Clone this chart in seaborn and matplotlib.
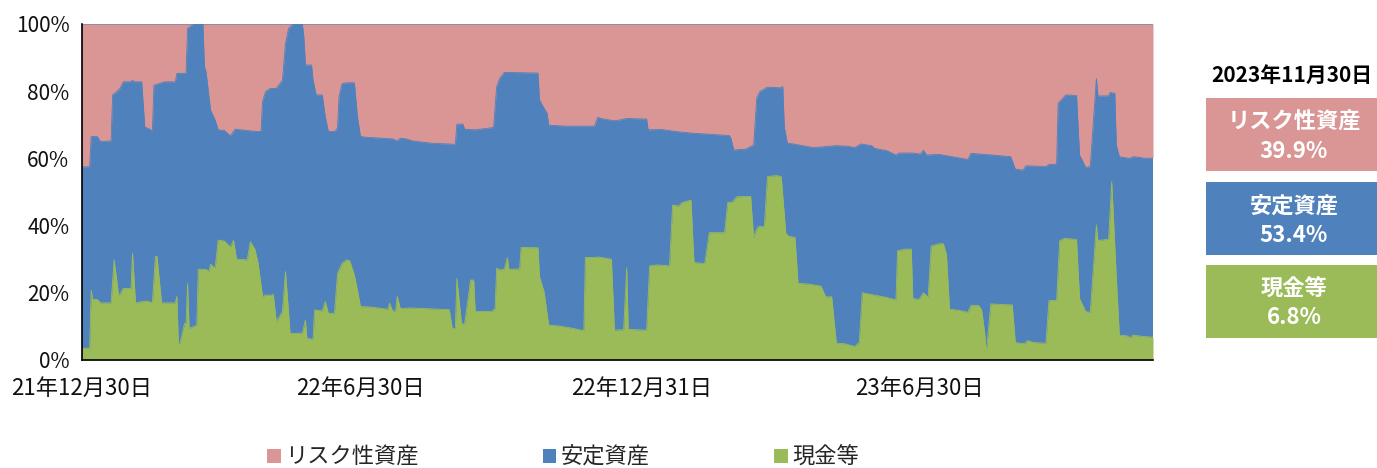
import matplotlib
matplotlib.use("Agg")
import matplotlib.pyplot as plt
from matplotlib.patches import Patch, Rectangle
import pandas as pd
import seaborn as sns

# ---------------- data ----------------
series_names = ["リスク性資産", "安定資産", "現金等"]
colors = ["#D99694", "#4F81BD", "#9BBB59"]

risk_dates = [
    "2021-12-30", "2022-01-04", "2022-01-05", "2022-01-09", "2022-01-11", "2022-01-18", "2022-01-19",
    "2022-01-22", "2022-01-24", "2022-01-26", "2022-01-31", "2022-02-01", "2022-02-02", "2022-02-07",
    "2022-02-09", "2022-02-13", "2022-02-14", "2022-02-15", "2022-02-22", "2022-03-01", "2022-03-02",
    "2022-03-08", "2022-03-09", "2022-03-13", "2022-03-19", "2022-03-20", "2022-03-21", "2022-03-24",
    "2022-03-27", "2022-03-29", "2022-04-02", "2022-04-06", "2022-04-09", "2022-04-19", "2022-04-24",
    "2022-04-26", "2022-04-27", "2022-04-29", "2022-05-02", "2022-05-06", "2022-05-10", "2022-05-12",
    "2022-05-14", "2022-05-17", "2022-05-23", "2022-05-24", "2022-05-25", "2022-05-29", "2022-05-30",
    "2022-06-01", "2022-06-05", "2022-06-07", "2022-06-09", "2022-06-13", "2022-06-15", "2022-06-16",
    "2022-06-18", "2022-06-21", "2022-06-26", "2022-06-28", "2022-06-30", "2022-07-04", "2022-07-21",
    "2022-07-24", "2022-07-26", "2022-07-30", "2022-08-03", "2022-08-16", "2022-08-31", "2022-09-01",
    "2022-09-05", "2022-09-06", "2022-09-13", "2022-09-25", "2022-09-27", "2022-09-29", "2022-10-02",
    "2022-10-24", "2022-10-25", "2022-10-28", "2022-10-30", "2022-10-31", "2022-11-11", "2022-11-30",
    "2022-12-02", "2022-12-05", "2022-12-13", "2022-12-16", "2022-12-21", "2023-01-03", "2023-01-04",
    "2023-01-13", "2023-01-22", "2023-02-02", "2023-02-13", "2023-02-26", "2023-02-27", "2023-03-01",
    "2023-03-09", "2023-03-14", "2023-03-16", "2023-03-18", "2023-03-23", "2023-04-01", "2023-04-02",
    "2023-04-03", "2023-04-05", "2023-04-09", "2023-04-22", "2023-05-07", "2023-05-15", "2023-05-19",
    "2023-05-23", "2023-05-30", "2023-06-01", "2023-06-09", "2023-06-15", "2023-06-17", "2023-06-26",
    "2023-07-01", "2023-07-03", "2023-07-05", "2023-07-13", "2023-07-22", "2023-08-01", "2023-08-03",
    "2023-08-17", "2023-08-29", "2023-09-01", "2023-09-06", "2023-09-08", "2023-09-21", "2023-09-23",
    "2023-09-28", "2023-09-29", "2023-10-02", "2023-10-04", "2023-10-11", "2023-10-13", "2023-10-15",
    "2023-10-17", "2023-10-20", "2023-10-24", "2023-10-25", "2023-11-01", "2023-11-02", "2023-11-05",
    "2023-11-06", "2023-11-08", "2023-11-15", "2023-11-17", "2023-11-21", "2023-11-25", "2023-11-30",
]
risk_vals = [
    42.5, 42.5, 33.5, 33.5, 35.0, 34.8, 21.1,
    20.0, 19.0, 17.2, 17.2, 16.7, 17.2, 17.2,
    30.6, 31.5, 32.0, 18.2, 17.2, 17.2, 14.7,
    14.7, 1.3, 0.0, 0.0, 12.7, 14.0, 25.6,
    28.6, 31.5, 31.7, 33.3, 31.3, 31.8, 32.0,
    32.0, 23.1, 20.1, 19.2, 19.2, 16.7, 5.8,
    1.3, 0.0, 0.0, 4.0, 12.2, 12.2, 16.7,
    21.1, 21.1, 27.6, 32.0, 32.0, 31.0, 21.6,
    17.7, 17.5, 17.5, 27.6, 33.5, 33.7, 34.2,
    34.8, 34.0, 34.2, 34.8, 35.5, 35.8, 29.8,
    29.8, 31.3, 31.5, 30.8, 18.7, 16.2, 14.4,
    14.6, 22.6, 25.1, 26.6, 30.1, 30.4, 30.4,
    27.8, 28.2, 28.8, 28.6, 28.1, 28.3, 31.5,
    31.4, 32.0, 32.5, 32.8, 33.2, 33.8, 37.5,
    37.2, 36.0, 22.1, 20.1, 18.8, 19.0, 18.6,
    30.6, 35.5, 35.7, 36.8, 36.2, 36.4, 36.8,
    35.7, 36.2, 37.0, 37.7, 39.0, 38.4, 38.4,
    38.7, 37.6, 39.0, 38.8, 39.5, 40.3, 38.5,
    39.0, 39.5, 43.2, 43.5, 42.2, 42.4, 41.8,
    41.7, 23.6, 22.1, 21.1, 21.3, 39.0, 40.8,
    42.7, 42.4, 16.2, 21.4, 21.4, 20.4, 20.6,
    36.0, 39.5, 40.0, 39.5, 39.7, 40.0, 39.9,
]

cash_dates = [
    "2021-12-30", "2022-01-04", "2022-01-05", "2022-01-06", "2022-01-09", "2022-01-11", "2022-01-18",
    "2022-01-20", "2022-01-23", "2022-01-26", "2022-01-31", "2022-02-01", "2022-02-03", "2022-02-09",
    "2022-02-11", "2022-02-14", "2022-02-16", "2022-02-17", "2022-02-20", "2022-03-01", "2022-03-02",
    "2022-03-03", "2022-03-04", "2022-03-07", "2022-03-08", "2022-03-09", "2022-03-10", "2022-03-15",
    "2022-03-16", "2022-03-21", "2022-03-23", "2022-03-24", "2022-03-27", "2022-03-29", "2022-04-02",
    "2022-04-06", "2022-04-08", "2022-04-10", "2022-04-17", "2022-04-19", "2022-04-22", "2022-04-24",
    "2022-04-27", "2022-04-29", "2022-05-03", "2022-05-04", "2022-05-06", "2022-05-10", "2022-05-12",
    "2022-05-15", "2022-05-23", "2022-05-25", "2022-05-26", "2022-05-30", "2022-05-31", "2022-06-05",
    "2022-06-07", "2022-06-09", "2022-06-13", "2022-06-15", "2022-06-18", "2022-06-21", "2022-06-23",
    "2022-06-26", "2022-06-28", "2022-06-30", "2022-07-06", "2022-07-18", "2022-07-19", "2022-07-21",
    "2022-07-23", "2022-07-24", "2022-07-26", "2022-08-01", "2022-08-27", "2022-08-29", "2022-08-31",
    "2022-09-01", "2022-09-04", "2022-09-06", "2022-09-10", "2022-09-12", "2022-09-13", "2022-09-24",
    "2022-09-26", "2022-09-27", "2022-09-29", "2022-10-02", "2022-10-04", "2022-10-05", "2022-10-12",
    "2022-10-13", "2022-10-24", "2022-10-25", "2022-10-28", "2022-10-31", "2022-11-07", "2022-11-15",
    "2022-11-23", "2022-11-24", "2022-11-30", "2022-12-02", "2022-12-11", "2022-12-13", "2022-12-19",
    "2022-12-21", "2022-12-22", "2023-01-03", "2023-01-05", "2023-01-10", "2023-01-18", "2023-01-20",
    "2023-01-24", "2023-01-26", "2023-02-01", "2023-02-03", "2023-02-10", "2023-02-13", "2023-02-23",
    "2023-02-25", "2023-02-28", "2023-03-03", "2023-03-12", "2023-03-14", "2023-03-15", "2023-03-17",
    "2023-03-21", "2023-03-23", "2023-03-29", "2023-04-01", "2023-04-04", "2023-04-06", "2023-04-10",
    "2023-04-12", "2023-04-19", "2023-04-27", "2023-04-30", "2023-05-04", "2023-05-07", "2023-05-13",
    "2023-05-19", "2023-05-22", "2023-05-24", "2023-05-31", "2023-06-07", "2023-06-15", "2023-06-16",
    "2023-06-21", "2023-06-25", "2023-06-26", "2023-06-30", "2023-07-03", "2023-07-06", "2023-07-08",
    "2023-07-13", "2023-07-16", "2023-07-18", "2023-07-20", "2023-07-26", "2023-08-01", "2023-08-03",
    "2023-08-08", "2023-08-10", "2023-08-12", "2023-08-13", "2023-08-16", "2023-08-24", "2023-08-30",
    "2023-09-01", "2023-09-07", "2023-09-09", "2023-09-13", "2023-09-21", "2023-09-23", "2023-09-28",
    "2023-09-30", "2023-10-03", "2023-10-11", "2023-10-13", "2023-10-17", "2023-10-20", "2023-10-24",
    "2023-10-25", "2023-11-01", "2023-11-03", "2023-11-06", "2023-11-08", "2023-11-13", "2023-11-15",
    "2023-11-17", "2023-11-24", "2023-11-30",
]
cash_vals = [
    3.5, 3.5, 20.8, 18.0, 18.0, 17.0, 17.0,
    29.8, 19.0, 21.3, 21.3, 31.8, 17.0, 17.5,
    17.5, 17.0, 30.8, 30.8, 17.0, 17.0, 19.0,
    5.0, 5.0, 10.9, 10.9, 22.8, 9.4, 10.4,
    27.0, 27.0, 26.3, 28.5, 27.3, 35.7, 35.4,
    33.6, 35.7, 30.0, 29.8, 35.2, 33.0, 29.0,
    18.9, 19.3, 19.3, 19.6, 11.4, 14.4, 26.3,
    7.9, 8.0, 11.9, 6.4, 6.2, 14.9, 14.6,
    17.4, 13.9, 13.9, 25.8, 28.8, 29.8, 29.5,
    25.3, 20.8, 15.9, 15.8, 15.1, 16.9, 14.6,
    14.6, 19.0, 15.3, 15.5, 15.0, 9.4, 9.4,
    24.3, 10.9, 10.6, 23.8, 23.8, 14.4, 14.5,
    15.4, 27.3, 26.8, 27.1, 30.5, 27.0, 27.1,
    33.5, 33.4, 24.8, 20.3, 10.4, 10.1, 9.5,
    8.7, 30.5, 30.5, 30.7, 30.0, 8.9, 9.0,
    27.5, 9.1, 8.9, 28.0, 28.3, 28.0, 46.1,
    45.8, 46.8, 47.6, 29.0, 28.7, 37.9, 37.9,
    46.8, 47.0, 48.6, 48.7, 36.2, 38.0, 39.7,
    39.7, 54.6, 54.9, 54.6, 37.7, 36.8, 36.5,
    22.8, 22.6, 22.0, 18.8, 18.8, 5.0, 4.8,
    4.0, 5.3, 20.0, 19.4, 18.8, 17.9, 32.5,
    33.0, 33.0, 18.3, 18.0, 20.0, 18.6, 33.9,
    34.6, 34.6, 31.3, 15.1, 14.8, 14.2, 16.2,
    16.2, 14.9, 8.0, 2.0, 16.7, 16.5, 16.4,
    5.2, 4.8, 5.8, 5.2, 5.0, 17.7, 17.7,
    35.5, 36.2, 35.9, 18.3, 14.4, 14.2, 40.2,
    35.5, 36.0, 53.1, 24.8, 7.4, 7.2, 6.6,
    7.4, 7.0, 6.8,
]

tick_dates = ["2021-12-30", "2022-06-30", "2022-12-31", "2023-06-30"]
tick_labels = ["21年12月30日", "22年6月30日", "22年12月31日", "23年6月30日"]
y_ticks = [0, 20, 40, 60, 80, 100]

panel_title = "2023年11月30日"
panel_values = ["39.9%", "53.4%", "6.8%"]

# ---------------- style ----------------
sns.set_theme(style="white")
plt.rcParams["font.family"] = ["Noto Sans CJK JP", "DejaVu Sans"]

risk_df = pd.DataFrame({"date": pd.to_datetime(risk_dates), "value": risk_vals})
cash_df = pd.DataFrame({"date": pd.to_datetime(cash_dates), "value": cash_vals})
start, end = risk_df["date"].min(), risk_df["date"].max()

fig = plt.figure(figsize=(13.77, 4.68), dpi=100)
ax = fig.add_axes([82 / 1377, 1 - 360 / 468, (1153 - 82) / 1377, 336 / 468])

# stable assets fill the whole band; cash at bottom, risk on top
ax.fill_between([start, end], 0, 100, color=colors[1], linewidth=0)
ax.fill_between(cash_df["date"], 0, cash_df["value"], color=colors[2], linewidth=0)
ax.fill_between(risk_df["date"], 100 - risk_df["value"], 100, color=colors[0], linewidth=0)
sns.lineplot(x=cash_df["date"], y=cash_df["value"], ax=ax, color=colors[2], linewidth=0.6)
sns.lineplot(x=risk_df["date"], y=100 - risk_df["value"], ax=ax, color=colors[1], linewidth=0.6)

ax.set_xlim(start, end)
ax.set_ylim(0, 100)
ax.set_xlabel("")
ax.set_ylabel("")
ax.set_yticks(y_ticks)
ax.set_yticklabels([f"{v}%" for v in y_ticks], fontsize=15)
ax.set_xticks(pd.to_datetime(tick_dates))
ax.set_xticklabels(tick_labels, fontsize=16)
ax.tick_params(axis="y", direction="out", length=5, width=1.2, color="black", pad=4, labelcolor="#111111")
ax.tick_params(axis="x", direction="out", length=6, width=1.2, color="black", pad=6, labelcolor="#111111")
for side in ["top", "right"]:
    ax.spines[side].set_visible(False)
for side in ["left", "bottom"]:
    ax.spines[side].set_color("black")
    ax.spines[side].set_linewidth(1.2)
ax.set_facecolor("white")

# legend
handles = [Patch(facecolor=c, edgecolor="none") for c in colors]
fig.legend(handles, series_names, loc="center", bbox_to_anchor=(563 / 1377, 1 - 457 / 468),
           ncol=3, frameon=False, fontsize=16, handlelength=0.6, handleheight=0.6,
           handletextpad=0.2, columnspacing=5.6)

# right panel
fig.text(1292 / 1377, 1 - 75 / 468, panel_title, ha="center", va="center",
         fontsize=15, fontweight="bold", color="black")
box_tops = [98, 182, 265]
for name, val, col, top in zip(series_names, panel_values, colors, box_tops):
    h = 73
    fig.add_artist(Rectangle((1206 / 1377, 1 - (top + h) / 468), (1377 - 1206) / 1377, h / 468,
                             transform=fig.transFigure, facecolor=col, edgecolor="none"))
    fig.text(1294 / 1377, 1 - (top + 24) / 468, name, ha="center", va="center",
             fontsize=16, fontweight="bold", color="white")
    fig.text(1294 / 1377, 1 - (top + 53) / 468, val, ha="center", va="center",
             fontsize=16, fontweight="bold", color="white")

fig.savefig("out.png", dpi=100, facecolor="white")
